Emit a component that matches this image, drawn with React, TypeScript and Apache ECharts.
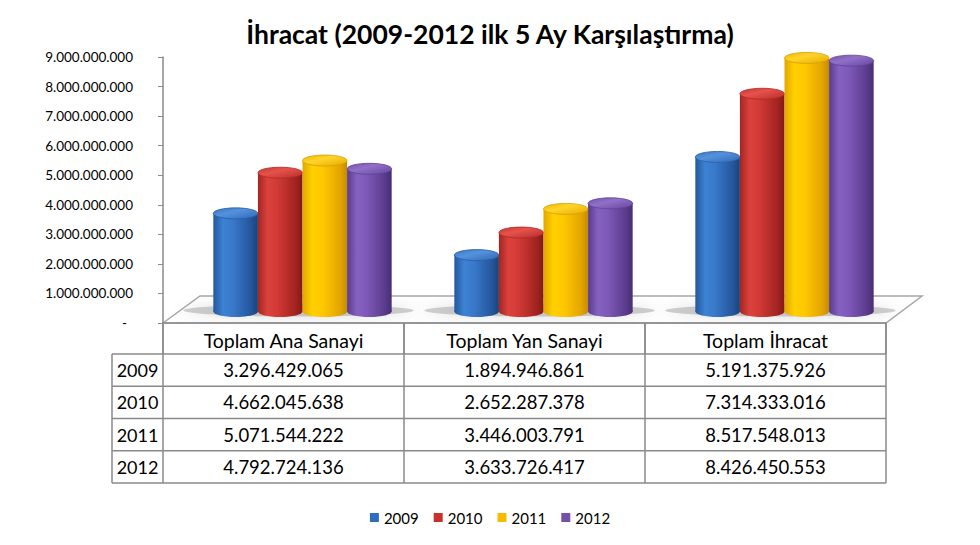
import React, { useEffect, useRef } from 'react';
import * as echarts from 'echarts';

const titleText = 'İhracat (2009-2012 ilk 5 Ay Karşılaştırma)';
const categories = ['Toplam Ana Sanayi', 'Toplam Yan Sanayi', 'Toplam İhracat'];
const years = ['2009', '2010', '2011', '2012'];
const values2009 = [3296429065, 1894946861, 5191375926];
const values2010 = [4662045638, 2652287378, 7314333016];
const values2011 = [5071544222, 3446003791, 8517548013];
const values2012 = [4792724136, 3633726417, 8426450553];
const seriesValues = [values2009, values2010, values2011, values2012];
const yMin = 0;
const yMax = 9000000000;
const yInterval = 1000000000;

const FONT = 'Lato, "Open Sans", sans-serif';

const palettes = [
  {
    legend: '#2E6CBE',
    body: [[0, '#24579D'], [0.22, '#3D82D4'], [0.45, '#3878C9'], [0.85, '#23559B'], [1, '#1A4479']],
    top: [[0, '#3874C2'], [0.4, '#5592DD'], [1, '#2F68B4']],
    rim: '#2A5EA6',
  },
  {
    legend: '#C8302C',
    body: [[0, '#A32522'], [0.22, '#DC423D'], [0.45, '#D13935'], [0.85, '#A12320'], [1, '#821917']],
    top: [[0, '#C83430'], [0.4, '#E6524C'], [1, '#B82C28']],
    rim: '#B02A26',
  },
  {
    legend: '#F5BC00',
    body: [[0, '#E3A600'], [0.22, '#FFD000'], [0.45, '#FFC800'], [0.85, '#E2A400'], [1, '#C48C00']],
    top: [[0, '#EDB400'], [0.4, '#FFD52A'], [1, '#E6AA00']],
    rim: '#D9A000',
  },
  {
    legend: '#7550A8',
    body: [[0, '#5A3B8C'], [0.22, '#8561C0'], [0.45, '#7D58B8'], [0.85, '#5A3B8C'], [1, '#472E70']],
    top: [[0, '#7352AA'], [0.4, '#9170C8'], [1, '#6446A0']],
    rim: '#60429A',
  },
];

const fmt = (n: number) => String(n).replace(/\B(?=(\d{3})+(?!\d))/g, '.');

const toStops = (arr: any[]) => arr.map(([offset, color]) => ({ offset, color }));

// layout constants
const GRID_LEFT = 163;
const GRID_RIGHT = 886;
const GRID_TOP = 57;
const GRID_BOTTOM = 323;
const TABLE_LEFT = 112;
const HEADER_BOTTOM = 354;
const TABLE_BOTTOM = 483;
const DEPTH_X = 19;
const BAR_BASE = 311.5;
const BAR_PX_PER_UNIT = 29.77;

export default function App() {
  const ref = useRef<HTMLDivElement>(null);

  useEffect(() => {
    const chart = echarts.init(ref.current!, null, { renderer: 'svg' });
    const gridW = GRID_RIGHT - GRID_LEFT;
    const band = gridW / categories.length;
    const rowH = (TABLE_BOTTOM - HEADER_BOTTOM) / years.length;
    const lineColor = '#8A8A8A';

    const makeRender = (si: number) => (params: any, api: any) => {
      const ci = api.value(0);
      const v = api.value(1);
      const top = api.coord([ci, v]);
      const base = api.coord([ci, 0]);
      const bw = api.size([1, 0])[0];
      const w = bw * 0.185;
      const x0 = top[0] - 2 * w + si * w;
      const cx = x0 + w / 2;
      const ry = 5.5;
      const pal = palettes[si];
      const bodyFill = { type: 'linear', x: 0, y: 0, x2: 1, y2: 0, colorStops: toStops(pal.body) };
      const topFill = { type: 'linear', x: 0, y: 0, x2: 1, y2: 1, colorStops: toStops(pal.top) };
      return {
        type: 'group',
        children: [
          { type: 'ellipse', shape: { cx, cy: base[1], rx: w / 2, ry }, style: { fill: bodyFill } },
          { type: 'rect', shape: { x: x0, y: top[1], width: w, height: base[1] - top[1] }, style: { fill: bodyFill } },
          { type: 'ellipse', shape: { cx, cy: top[1], rx: w / 2, ry }, style: { fill: topFill, stroke: pal.rim, lineWidth: 0.8 } },
        ],
      };
    };

    const shadowRender = (params: any, api: any) => {
      const ci = api.value(0);
      const base = api.coord([ci, 0]);
      const bw = api.size([1, 0])[0];
      const w = bw * 0.185;
      return {
        type: 'ellipse',
        shape: { cx: base[0] - 4, cy: base[1] - 1, rx: 2 * w + 26, ry: 6 },
        style: { fill: 'rgba(150,150,150,0.45)', shadowBlur: 14, shadowColor: 'rgba(120,120,120,0.6)' },
      };
    };

    const graphics: any[] = [];
    // floor
    graphics.push({
      type: 'polygon',
      z: 0,
      shape: {
        points: [
          [GRID_LEFT, GRID_BOTTOM],
          [GRID_LEFT + 37, GRID_BOTTOM - 27],
          [GRID_RIGHT + 36, GRID_BOTTOM - 27],
          [GRID_RIGHT, GRID_BOTTOM],
        ],
      },
      style: { fill: '#ffffff', stroke: '#A6A6A6', lineWidth: 1.5 },
    });
    // table horizontal lines
    for (let r = 0; r <= years.length; r++) {
      const y = HEADER_BOTTOM + r * rowH;
      graphics.push({
        type: 'line', z: 1,
        shape: { x1: TABLE_LEFT, y1: y, x2: GRID_RIGHT, y2: y },
        style: { stroke: lineColor, lineWidth: 1.5 },
      });
    }
    // table vertical lines
    graphics.push({
      type: 'line', z: 1,
      shape: { x1: TABLE_LEFT, y1: HEADER_BOTTOM, x2: TABLE_LEFT, y2: TABLE_BOTTOM },
      style: { stroke: lineColor, lineWidth: 1.5 },
    });
    for (let c = 0; c <= categories.length; c++) {
      const x = GRID_LEFT + c * band;
      graphics.push({
        type: 'line', z: 1,
        shape: { x1: x, y1: GRID_BOTTOM, x2: x, y2: TABLE_BOTTOM },
        style: { stroke: lineColor, lineWidth: 1.5 },
      });
    }
    // year labels and values
    years.forEach((yr, r) => {
      const cy = HEADER_BOTTOM + (r + 0.5) * rowH;
      graphics.push({
        type: 'text', z: 2,
        x: (TABLE_LEFT + GRID_LEFT) / 2, y: cy,
        style: { text: yr, fontSize: 18, fontFamily: FONT, fill: '#000', align: 'center', verticalAlign: 'middle' },
      });
      seriesValues[r].forEach((v, c) => {
        graphics.push({
          type: 'text', z: 2,
          x: GRID_LEFT + (c + 0.5) * band, y: cy,
          style: { text: fmt(v), fontSize: 18.5, fontFamily: FONT, fill: '#000', align: 'center', verticalAlign: 'middle' },
        });
      });
    });

    const barTop = BAR_BASE - (yMax / yInterval) * BAR_PX_PER_UNIT;

    const option: any = {
      animation: false,
      backgroundColor: '#ffffff',
      title: {
        text: titleText,
        left: 'center',
        top: 15,
        textStyle: { fontFamily: FONT, fontSize: 26.5, fontWeight: 'bold', color: '#000' },
      },
      legend: {
        data: years,
        top: 505,
        left: 'center',
        icon: 'rect',
        itemWidth: 9,
        itemHeight: 9,
        itemGap: 15,
        textStyle: { fontFamily: FONT, fontSize: 15, color: '#000' },
      },
      grid: [
        { left: GRID_LEFT, top: GRID_TOP, width: gridW, height: GRID_BOTTOM - GRID_TOP },
        { left: GRID_LEFT + DEPTH_X, top: barTop, width: gridW, height: BAR_BASE - barTop },
      ],
      xAxis: [
        {
          type: 'category', gridIndex: 0, data: categories,
          axisLine: { show: true, lineStyle: { color: lineColor, width: 1.5 } },
          axisTick: { show: true, length: HEADER_BOTTOM - GRID_BOTTOM, lineStyle: { color: lineColor, width: 1.5 } },
          axisLabel: { margin: 7, fontSize: 19.5, fontFamily: FONT, color: '#000' },
        },
        { type: 'category', gridIndex: 1, data: categories, show: false },
      ],
      yAxis: [
        {
          type: 'value', gridIndex: 0, min: yMin, max: yMax, interval: yInterval,
          axisLine: { show: true, lineStyle: { color: lineColor, width: 1.5 } },
          axisTick: { show: true, length: 5, lineStyle: { color: lineColor } },
          splitLine: { show: false },
          axisLabel: {
            margin: 30, fontSize: 13.5, fontFamily: FONT, color: '#000',
            formatter: (v: number) => (v === 0 ? '{d|-}' : fmt(v)),
            rich: { d: { padding: [0, 6, 0, 0], fontSize: 13.5, fontFamily: FONT, color: '#000' } },
          },
        },
        { type: 'value', gridIndex: 1, min: yMin, max: yMax, interval: yInterval, show: false },
      ],
      graphic: { elements: graphics },
      series: [
        {
          type: 'custom', name: 'shadow', xAxisIndex: 1, yAxisIndex: 1, z: 1,
          renderItem: shadowRender,
          data: categories.map((_, i) => [i, 0]),
          silent: true,
        },
        ...years.map((yr, si) => ({
          type: 'custom', name: yr, xAxisIndex: 1, yAxisIndex: 1, z: 2 + si,
          itemStyle: { color: palettes[si].legend },
          renderItem: makeRender(si),
          data: seriesValues[si].map((v, i) => [i, v]),
        })),
      ],
    };
    chart.setOption(option);
    return () => chart.dispose();
  }, []);

  return (
    <div
      ref={ref}
      style={{ position: 'fixed', left: 0, top: 0, width: 980, height: 545, background: '#fff' }}
    />
  );
}
